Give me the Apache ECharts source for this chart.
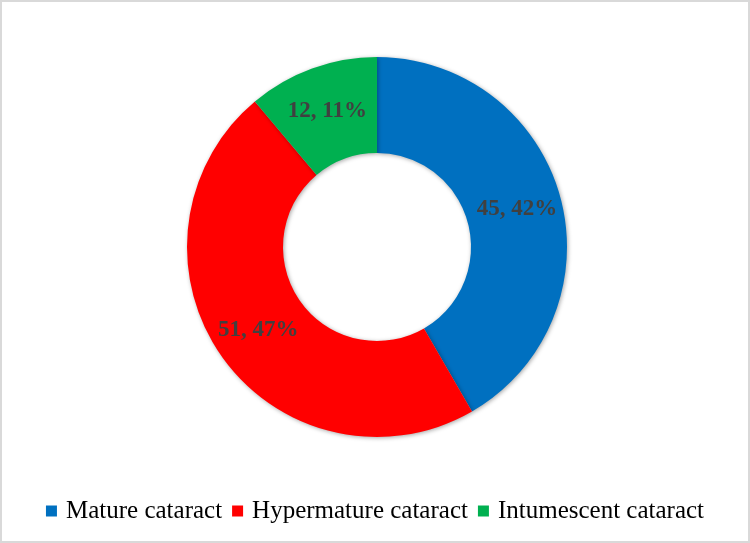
<!DOCTYPE html>
<html><head><meta charset="utf-8">
<script src="https://cdn.jsdelivr.net/npm/echarts@6/dist/echarts.min.js"></script>
<style>html,body{margin:0;padding:0;background:#fff}#c{width:750px;height:543px;box-sizing:border-box;border:2px solid #d9d9d9}</style>
</head><body><div id="c"></div>
<script>
const categories = ["Mature cataract", "Hypermature cataract", "Intumescent cataract"];
const values = [45, 51, 12];
const percents = ["42%", "47%", "11%"];
const colors = ["#0070C0", "#FF0000", "#00B050"];

const chart = echarts.init(document.getElementById('c'));
chart.setOption({
  animation: false,
  legend: {
    top: 490, left: 'center',
    itemWidth: 11, itemHeight: 11, itemGap: 10,
    icon: 'rect',
    textStyle: { fontFamily: 'Liberation Serif', fontSize: 25, lineHeight: 28, color: '#000', padding: [0, 0, 0, 4] },
    data: categories
  },
  series: [{
    type: 'pie',
    center: [375, 245],
    radius: [94, 190],
    startAngle: 90,
    clockwise: true,
    label: {
      position: 'inside',
      fontFamily: 'Liberation Serif', fontWeight: 'bold', fontSize: 23, color: '#404040',
      formatter: p => values[p.dataIndex] + ', ' + percents[p.dataIndex]
    },
    labelLine: { show: false },
    itemStyle: { shadowColor: 'rgba(0,0,0,0.35)', shadowBlur: 4, shadowOffsetX: 1, shadowOffsetY: 1 },
    emphasis: { disabled: true },
    data: categories.map((c, i) => ({ name: c, value: values[i], itemStyle: { color: colors[i] } }))
  }]
});
</script></body></html>
